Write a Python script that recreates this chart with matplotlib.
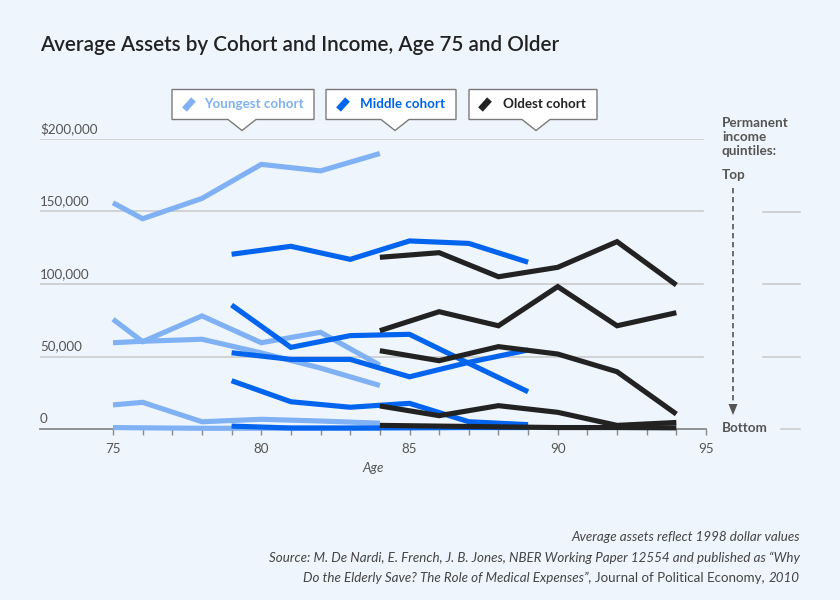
import matplotlib
matplotlib.use('Agg')
import matplotlib.pyplot as plt
from matplotlib.patches import Polygon
import matplotlib.transforms as mtransforms

plt.rcParams['font.family'] = ['Lato', 'DejaVu Sans']

# ---------------- data ----------------
ages_young = [75, 76, 78, 80, 82, 84]
ages_middle = [79, 81, 83, 85, 87, 89]
ages_old = [84, 86, 88, 90, 92, 94]

# average assets (dollars), one list per permanent-income quintile, bottom -> top
young_q1 = [1000, 800, 500, 500, 500, 500]
young_q2 = [16600, 18400, 5000, 6700, 5500, 4000]
young_q3 = [59500, 60500, 61900, 52500, 42000, 30000]
young_q4 = [75700, 60200, 78000, 59500, 66700, 44000]
young_q5 = [156000, 145000, 159000, 182500, 178000, 190000]

middle_q1 = [2000, 700, 700, 800, 1000, 1000]
middle_q2 = [33300, 18800, 15000, 17700, 5000, 3000]
middle_q3 = [52600, 48000, 48000, 36000, 46000, 54500]
middle_q4 = [85500, 56300, 64400, 65300, 45300, 25700]
middle_q5 = [120500, 126000, 117000, 129700, 128000, 115000]

old_q1 = [2500, 2000, 1500, 1000, 1000, 800]
old_q2 = [15900, 9200, 16100, 11500, 2500, 4500]
old_q3 = [54000, 47100, 56800, 51700, 39500, 10300]
old_q4 = [67800, 80900, 71200, 98200, 71200, 80200]
old_q5 = [118400, 121600, 105000, 111500, 129200, 99300]

cohort_names = ['Youngest cohort', 'Middle cohort', 'Oldest cohort']
cohort_colors = ['#80b1f4', '#0064ee', '#222222']

y_ticks = [0, 50000, 100000, 150000, 200000]
y_tick_labels = ['0', '50,000', '100,000', '150,000', '$200,000']
x_tick_labels = [75, 80, 85, 90, 95]

title = 'Average Assets by Cohort and Income, Age 75 and Older'

# ---------------- figure ----------------
BG = '#eff5fc'
W, H = 840, 600
fig = plt.figure(figsize=(W / 100, H / 100), dpi=100, facecolor=BG)

def px(x0, y0, x1, y1):
    return [x0 / W, 1 - y1 / H, (x1 - x0) / W, (y1 - y0) / H]

ax = fig.add_axes(px(40, 139, 706, 429))
ax.set_facecolor('none')
ax.set_xlim(75 - (113 - 40) / 29.65, 95)
ax.set_ylim(0, 200000)
for s in ax.spines.values():
    s.set_visible(False)

# gridlines
for v in y_ticks[1:]:
    ax.axhline(v, xmin=0, xmax=(703 - 40) / 666, color='#c8c8c8', lw=1.1, zorder=1)
ax.axhline(0, color='#8a8a8a', lw=1.3, zorder=1, clip_on=False)

# y labels above gridlines
ytrans = mtransforms.offset_copy(ax.get_yaxis_transform(), fig=fig, x=0, y=4, units='dots')
for v, lab in zip(y_ticks, y_tick_labels):
    ax.text(0, v, lab, transform=ytrans, ha='left', va='bottom', fontsize=9.6, color='#555555')
ax.set_yticks([])

# x ticks
ax.set_xticks(list(range(75, 96)))
ax.set_xticklabels([str(a) if a in x_tick_labels else '' for a in range(75, 96)])
ax.tick_params(axis='x', direction='out', length=4, width=1, color='#8a8a8a',
               labelsize=9.6, labelcolor='#555555', pad=6)
ax.set_xlabel('Age', fontsize=9.6, style='italic', color='#555555', labelpad=5)

lw = 3.7
for ages, qs, col in [
    (ages_young, [young_q1, young_q2, young_q3, young_q4, young_q5], cohort_colors[0]),
    (ages_middle, [middle_q1, middle_q2, middle_q3, middle_q4, middle_q5], cohort_colors[1]),
    (ages_old, [old_q1, old_q2, old_q3, old_q4, old_q5], cohort_colors[2]),
]:
    for q in qs:
        ax.plot(ages, q, color=col, lw=lw, solid_capstyle='butt', solid_joinstyle='miter',
                clip_on=False, zorder=3)

# ---------------- overlay in pixel coords ----------------
ov = fig.add_axes([0, 0, 1, 1])
ov.set_xlim(0, W)
ov.set_ylim(H, 0)
ov.axis('off')

ov.text(40, 45, title, fontsize=14.9, fontweight='semibold', color='#222222',
        ha='left', va='center')

# legend callout boxes
boxes = [(172, 314, 242), (326, 456, 395), (469, 597, 536)]
icon_x = [183, 337, 479]
text_x = [204, 360, 503]
for (x0, x1, tip), ix, tx, name, col in zip(boxes, icon_x, text_x, cohort_names, cohort_colors):
    y0, y1 = 89.5, 119.5
    pts = [(x0, y0), (x1, y0), (x1, y1), (tip + 14, y1), (tip, 130.5), (tip - 14, y1), (x0, y1)]
    ov.add_patch(Polygon(pts, closed=True, facecolor='white', edgecolor='#7a7a7a', lw=1.0, zorder=5))
    ov.plot([ix + 1.5, ix + 10.5], [109.5, 99.5], color=col, lw=4.6, solid_capstyle='butt', zorder=6)
    ov.text(tx, 104.5, name, fontsize=9.6, fontweight='bold', color=col, ha='left', va='center', zorder=6)

# right-hand annotation
afs = 9.7
for yy, s in zip([122.7, 136.7, 150.7], ['Permanent', 'income', 'quintiles:']):
    ov.text(722, yy, s, fontsize=afs, fontweight='bold', color='#555555', ha='left', va='center')
ov.text(722, 175, 'Top', fontsize=afs, fontweight='bold', color='#555555', ha='left', va='center')
ov.text(722, 428.5, 'Bottom', fontsize=afs, fontweight='bold', color='#555555', ha='left', va='center')
ov.plot([733, 733], [188, 404], color='#555555', lw=1.2, dashes=(3.2, 2.2))
ov.add_patch(Polygon([(728.5, 404), (737.5, 404), (733, 415)], closed=True, facecolor='#555555', edgecolor='none'))
for yy in [211.5, 284, 356.5]:
    ov.plot([763, 800], [yy, yy], color='#c8c8c8', lw=1.1)
ov.plot([781, 800], [428.5, 428.5], color='#c8c8c8', lw=1.1)

# footer
fs = 9.6
fc = '#444444'
ov.text(800, 537, 'Average assets reflect 1998 dollar values', fontsize=fs, style='italic', color=fc,
        ha='right', va='center')
ov.text(800, 558, 'Source: M. De Nardi, E. French, J. B. Jones, NBER Working Paper 12554 and published as \u201cWhy',
        fontsize=fs, style='italic', color=fc, ha='right', va='center')
r = fig.canvas.get_renderer()
pieces = [('Do the Elderly Save? The Role of Medical Expenses\u201d,', 'italic'),
          ('Journal of Political Economy,', 'normal'),
          ('2010', 'italic')]
x = 800
for s, st in reversed(pieces):
    t = ov.text(x, 578, s, fontsize=fs, style=st, color=fc, ha='right', va='center')
    x -= t.get_window_extent(r).width + 4

fig.savefig('out.png', dpi=100, facecolor=BG)
